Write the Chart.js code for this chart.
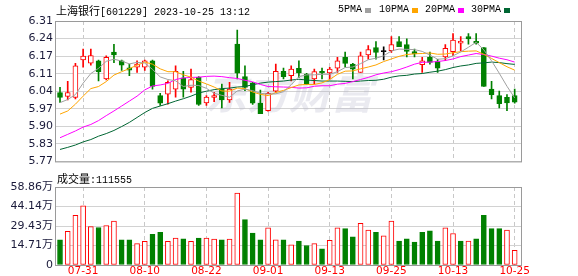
<!DOCTYPE html>
<html>
<head>
<meta charset="utf-8">
<title>上海银行 K线</title>
<script src="https://cdn.jsdelivr.net/npm/chart.js@4.4.0/dist/chart.umd.min.js"></script>
<style>
  html, body { margin: 0; padding: 0; background: #fff; }
  body { position: relative; width: 578px; height: 276px; overflow: hidden; }
  canvas { position: absolute; left: 0; }
  #kline { top: 0; }
  #vol { top: 170px; }
  .txt { position: absolute; white-space: nowrap; font-family: 'Liberation Mono', 'Noto Sans CJK SC', monospace;
         font-size: 10px; line-height: 12px; letter-spacing: 0; color: #000; }
  .cjk { font-family: 'Noto Sans CJK SC', sans-serif; font-size: 11px; }
  .sq { position: absolute; top: 8px; width: 6px; height: 5px; }
</style>
</head>
<body>
<canvas id="kline" width="578" height="170"></canvas>
<canvas id="vol" width="578" height="106"></canvas>

<div class="txt" style="left:56px;top:4px"><span class="cjk">上海银行</span>[601229] 2023-10-25 13:12</div>
<div class="txt" style="left:338px;top:4px">5PMA</div><div class="sq" style="left:365px;background:#a0a0a0"></div>
<div class="txt" style="left:379px;top:4px">10PMA</div><div class="sq" style="left:412px;background:#ffa500"></div>
<div class="txt" style="left:425px;top:4px">20PMA</div><div class="sq" style="left:458px;background:#ff00ff"></div>
<div class="txt" style="left:471px;top:4px">30PMA</div><div class="sq" style="left:504px;background:#006633"></div>
<div class="txt" style="left:57px;top:172px"><span class="cjk">成交量</span>:111555</div>

<script>
// trading days shown (60 sessions)
const dates = ['07-26','07-27','07-28','07-31','08-01','08-02','08-03','08-04','08-07','08-08',
  '08-09','08-10','08-11','08-14','08-15','08-16','08-17','08-18','08-21','08-22',
  '08-23','08-24','08-25','08-28','08-29','08-30','08-31','09-01','09-04','09-05',
  '09-06','09-07','09-08','09-11','09-12','09-13','09-14','09-15','09-18','09-19',
  '09-20','09-21','09-22','09-25','09-26','09-27','09-28','10-09','10-10','10-11',
  '10-12','10-13','10-16','10-17','10-18','10-19','10-20','10-23','10-24','10-25'];
const tickDates = ['07-31','08-10','08-22','09-01','09-13','09-25','10-13','10-25'];

const opens = [6.035,6.020,6.016,6.160,6.148,6.157,6.087,6.190,6.157,6.130,
  6.132,6.132,6.157,6.023,6.029,6.048,6.091,6.055,6.093,5.995,
  6.016,6.048,6.006,6.221,6.096,6.072,5.994,5.965,6.040,6.116,
  6.100,6.128,6.106,6.087,6.116,6.110,6.129,6.170,6.144,6.112,
  6.180,6.208,6.192,6.196,6.231,6.219,6.192,6.142,6.170,6.154,
  6.172,6.192,6.225,6.250,6.232,6.208,6.048,6.023,6.016,6.023];
const highs = [6.055,6.078,6.147,6.202,6.202,6.160,6.176,6.220,6.160,6.144,
  6.157,6.160,6.160,6.032,6.080,6.138,6.116,6.125,6.096,6.023,
  6.036,6.067,6.074,6.275,6.138,6.074,6.044,6.036,6.144,6.129,
  6.138,6.157,6.109,6.125,6.129,6.132,6.170,6.190,6.147,6.190,
  6.215,6.231,6.211,6.250,6.250,6.241,6.202,6.170,6.190,6.163,
  6.219,6.262,6.250,6.262,6.262,6.208,6.078,6.040,6.027,6.048];
const lows = [5.997,6.006,6.010,6.132,6.140,6.080,6.083,6.150,6.120,6.100,
  6.112,6.120,6.048,5.985,5.990,6.017,6.017,6.036,5.985,5.985,
  6.000,5.976,5.997,6.087,6.042,5.989,5.954,5.963,6.036,6.087,
  6.080,6.093,6.067,6.067,6.087,6.087,6.112,6.132,6.087,6.112,
  6.163,6.163,6.160,6.189,6.211,6.172,6.172,6.112,6.144,6.112,
  6.157,6.177,6.196,6.221,6.221,6.058,6.010,5.976,5.965,5.994];
const closes = [6.016,6.035,6.138,6.175,6.177,6.115,6.170,6.180,6.140,6.121,
  6.144,6.157,6.058,5.994,6.074,6.116,6.048,6.085,5.989,6.017,
  6.023,6.006,6.048,6.109,6.055,5.994,5.954,6.032,6.116,6.096,
  6.125,6.110,6.067,6.115,6.110,6.125,6.157,6.147,6.125,6.176,
  6.200,6.189,6.192,6.219,6.211,6.193,6.183,6.157,6.151,6.129,
  6.205,6.237,6.232,6.241,6.225,6.058,6.027,5.992,5.995,5.998];
const prevClose = 6.03;

const ma5 = [5.996,6.008,6.027,6.071,6.108,6.128,6.155,6.163,6.156,6.145,
  6.151,6.148,6.124,6.095,6.085,6.080,6.058,6.063,6.062,6.051,
  6.032,6.024,6.017,6.041,6.048,6.042,6.032,6.029,6.030,6.038,
  6.065,6.096,6.103,6.103,6.105,6.105,6.115,6.131,6.133,6.146,
  6.161,6.167,6.176,6.195,6.202,6.201,6.200,6.193,6.179,6.163,
  6.165,6.176,6.191,6.209,6.228,6.199,6.157,6.109,6.059,6.014];
const ma10 = [5.952,5.964,5.990,6.021,6.050,6.058,6.077,6.102,6.115,6.127,
  6.140,6.152,6.144,6.126,6.115,6.115,6.103,6.094,6.079,6.068,
  6.056,6.041,6.040,6.052,6.050,6.037,6.028,6.023,6.035,6.043,
  6.054,6.064,6.066,6.066,6.072,6.085,6.105,6.117,6.118,6.126,
  6.133,6.141,6.154,6.164,6.174,6.181,6.184,6.185,6.187,6.182,
  6.183,6.188,6.192,6.194,6.195,6.182,6.166,6.150,6.134,6.121];
const ma20 = [5.861,5.874,5.887,5.902,5.912,5.927,5.946,5.964,5.983,6.002,
  6.021,6.045,6.060,6.064,6.070,6.085,6.091,6.093,6.094,6.097,
  6.098,6.096,6.092,6.089,6.082,6.076,6.066,6.058,6.057,6.056,
  6.055,6.052,6.053,6.059,6.061,6.061,6.067,6.070,6.077,6.085,
  6.093,6.103,6.110,6.115,6.123,6.133,6.144,6.151,6.152,6.154,
  6.158,6.164,6.173,6.179,6.185,6.181,6.175,6.167,6.161,6.152];
const ma30 = [5.816,5.824,5.833,5.845,5.854,5.867,5.877,5.889,5.904,5.920,
  5.939,5.958,5.974,5.983,5.992,6.002,6.011,6.021,6.033,6.040,
  6.046,6.050,6.052,6.056,6.058,6.065,6.071,6.075,6.077,6.079,
  6.083,6.086,6.083,6.081,6.079,6.079,6.079,6.078,6.077,6.079,
  6.081,6.082,6.086,6.094,6.099,6.101,6.106,6.108,6.113,6.117,
  6.123,6.131,6.137,6.141,6.147,6.149,6.152,6.150,6.146,6.143];

// volume in 万
const volumes = [19.0,25.5,37.4,44.7,28.9,28.3,29.7,33.1,19.0,19.0,
  16.1,17.8,23.2,24.6,17.8,20.4,19.8,17.8,20.4,20.4,
  19.5,19.0,19.5,54.3,34.2,24.1,19.0,28.0,19.0,19.0,
  15.3,18.1,14.7,16.1,12.2,18.7,28.0,27.5,21.2,31.4,
  26.3,24.6,22.1,33.1,18.1,19.8,17.3,24.6,25.8,18.1,
  28.0,23.8,18.1,18.1,19.8,37.4,27.5,27.5,26.3,11.16];

const priceTicks = ['5.77','5.83','5.90','5.97','6.04','6.11','6.17','6.24','6.31'];
const volTicks = ['0','14.71万','29.43万','44.14万','58.86万'];

const RED = '#ff0000';
const GREEN = '#008000';
const tickIdx = tickDates.map(d => dates.indexOf(d));

function candleColor(i) {
  if (closes[i] > opens[i]) return RED;
  if (closes[i] < opens[i]) return GREEN;
  return '#000000';
}
function volUp(i) {
  return closes[i] > (i ? closes[i - 1] : prevClose);
}

// grey frame round the plot area
const frame = {
  id: 'frame',
  beforeDatasetsDraw(chart) {
    const { ctx, chartArea: a } = chart;
    ctx.save();
    ctx.strokeStyle = '#9a9a9a';
    ctx.lineWidth = 1;
    ctx.strokeRect(a.left + 0.5, a.top + 0.5, a.right - a.left - 1, a.bottom - a.top);
    ctx.restore();
  }
};

const watermark = {
  id: 'watermark',
  beforeDatasetsDraw(chart) {
    const ctx = chart.ctx;
    ctx.save();
    ctx.font = 'italic bold 42px "Noto Sans CJK SC"';
    ctx.fillStyle = 'rgba(185,185,205,0.3)';
    ctx.textBaseline = 'middle';
    ctx.fillText('东方财富', 205, 93);
    ctx.restore();
  }
};

function xAxis(showLabels) {
  return {
    type: 'linear',
    min: -0.65,
    max: 59.95,
    offset: false,
    afterBuildTicks: s => { s.ticks = tickIdx.map(v => ({ value: v })); },
    afterFit: s => { s.height = showLabels ? 11 : 0; },
    ticks: {
      display: showLabels,
      autoSkip: false,
      maxRotation: 0,
      padding: 0,
      color: RED,
      font: { family: "'DejaVu Sans'", size: 10.5 },
      callback: v => dates[v]
    },
    grid: { color: '#c8c8c8', drawTicks: false, offset: false },
    border: { display: false, dash: [4, 3] }
  };
}

function yAxis(labels, min, max) {
  return {
    min: min,
    max: max,
    beginAtZero: false,
    afterBuildTicks: s => {
      s.ticks = labels.map((t, i) => ({ value: min + i * (max - min) / (labels.length - 1) }));
    },
    afterFit: s => { s.width = 55; },
    ticks: {
      padding: 2,
      color: '#1a1a3a',
      font: { family: "'DejaVu Sans', 'Noto Sans CJK SC'", size: 11 },
      callback: (v, i) => labels[i]
    },
    grid: { color: '#d2d2d2', drawTicks: false },
    border: { display: false }
  };
}

const maSets = [
  { label: '5PMA', data: ma5, color: '#a0a0a0' },
  { label: '10PMA', data: ma10, color: '#ffa500' },
  { label: '20PMA', data: ma20, color: '#ff00ff' },
  { label: '30PMA', data: ma30, color: '#006633' }
];

new Chart(document.getElementById('kline'), {
  type: 'bar',
  data: {
    datasets: [
      ...maSets.map(m => ({
        type: 'line',
        label: m.label,
        data: m.data.map((v, i) => ({ x: i, y: v })),
        borderColor: m.color,
        borderWidth: 1,
        pointRadius: 0,
        tension: 0,
        order: 0
      })),
      {
        label: 'body',
        data: opens.map((o, i) => ({ x: i, y: [o, closes[i]] })),
        backgroundColor: c => closes[c.dataIndex] > opens[c.dataIndex] ? '#ffffff' : candleColor(c.dataIndex),
        borderColor: c => candleColor(c.dataIndex),
        borderWidth: 1,
        borderSkipped: false,
        barThickness: 5,
        minBarLength: 1,
        grouped: false,
        order: 1
      },
      {
        label: 'wick',
        data: lows.map((l, i) => ({ x: i, y: [l, highs[i]] })),
        backgroundColor: c => candleColor(c.dataIndex),
        borderWidth: 0,
        barThickness: 1,
        grouped: false,
        order: 2
      }
    ]
  },
  options: {
    responsive: false,
    animation: false,
    layout: { padding: { top: 21, right: 56, bottom: 5, left: 0 } },
    plugins: { legend: { display: false }, tooltip: { enabled: false } },
    scales: {
      x: xAxis(false),
      y: yAxis(priceTicks, parseFloat(priceTicks[0]), parseFloat(priceTicks[priceTicks.length - 1]))
    }
  },
  plugins: [frame, watermark]
});

new Chart(document.getElementById('vol'), {
  type: 'bar',
  data: {
    datasets: [{
      label: '成交量',
      data: volumes.map((v, i) => ({ x: i, y: v })),
      backgroundColor: c => volUp(c.dataIndex) ? '#ffffff' : GREEN,
      borderColor: c => volUp(c.dataIndex) ? RED : GREEN,
      borderWidth: 1,
      borderSkipped: false,
      barThickness: 5
    }]
  },
  options: {
    responsive: false,
    animation: false,
    layout: { padding: { top: 17, right: 56, bottom: 0, left: 0 } },
    plugins: { legend: { display: false }, tooltip: { enabled: false } },
    scales: {
      x: xAxis(true),
      y: yAxis(volTicks, 0, 58.86)
    }
  },
  plugins: [frame]
});
</script>
</body>
</html>
